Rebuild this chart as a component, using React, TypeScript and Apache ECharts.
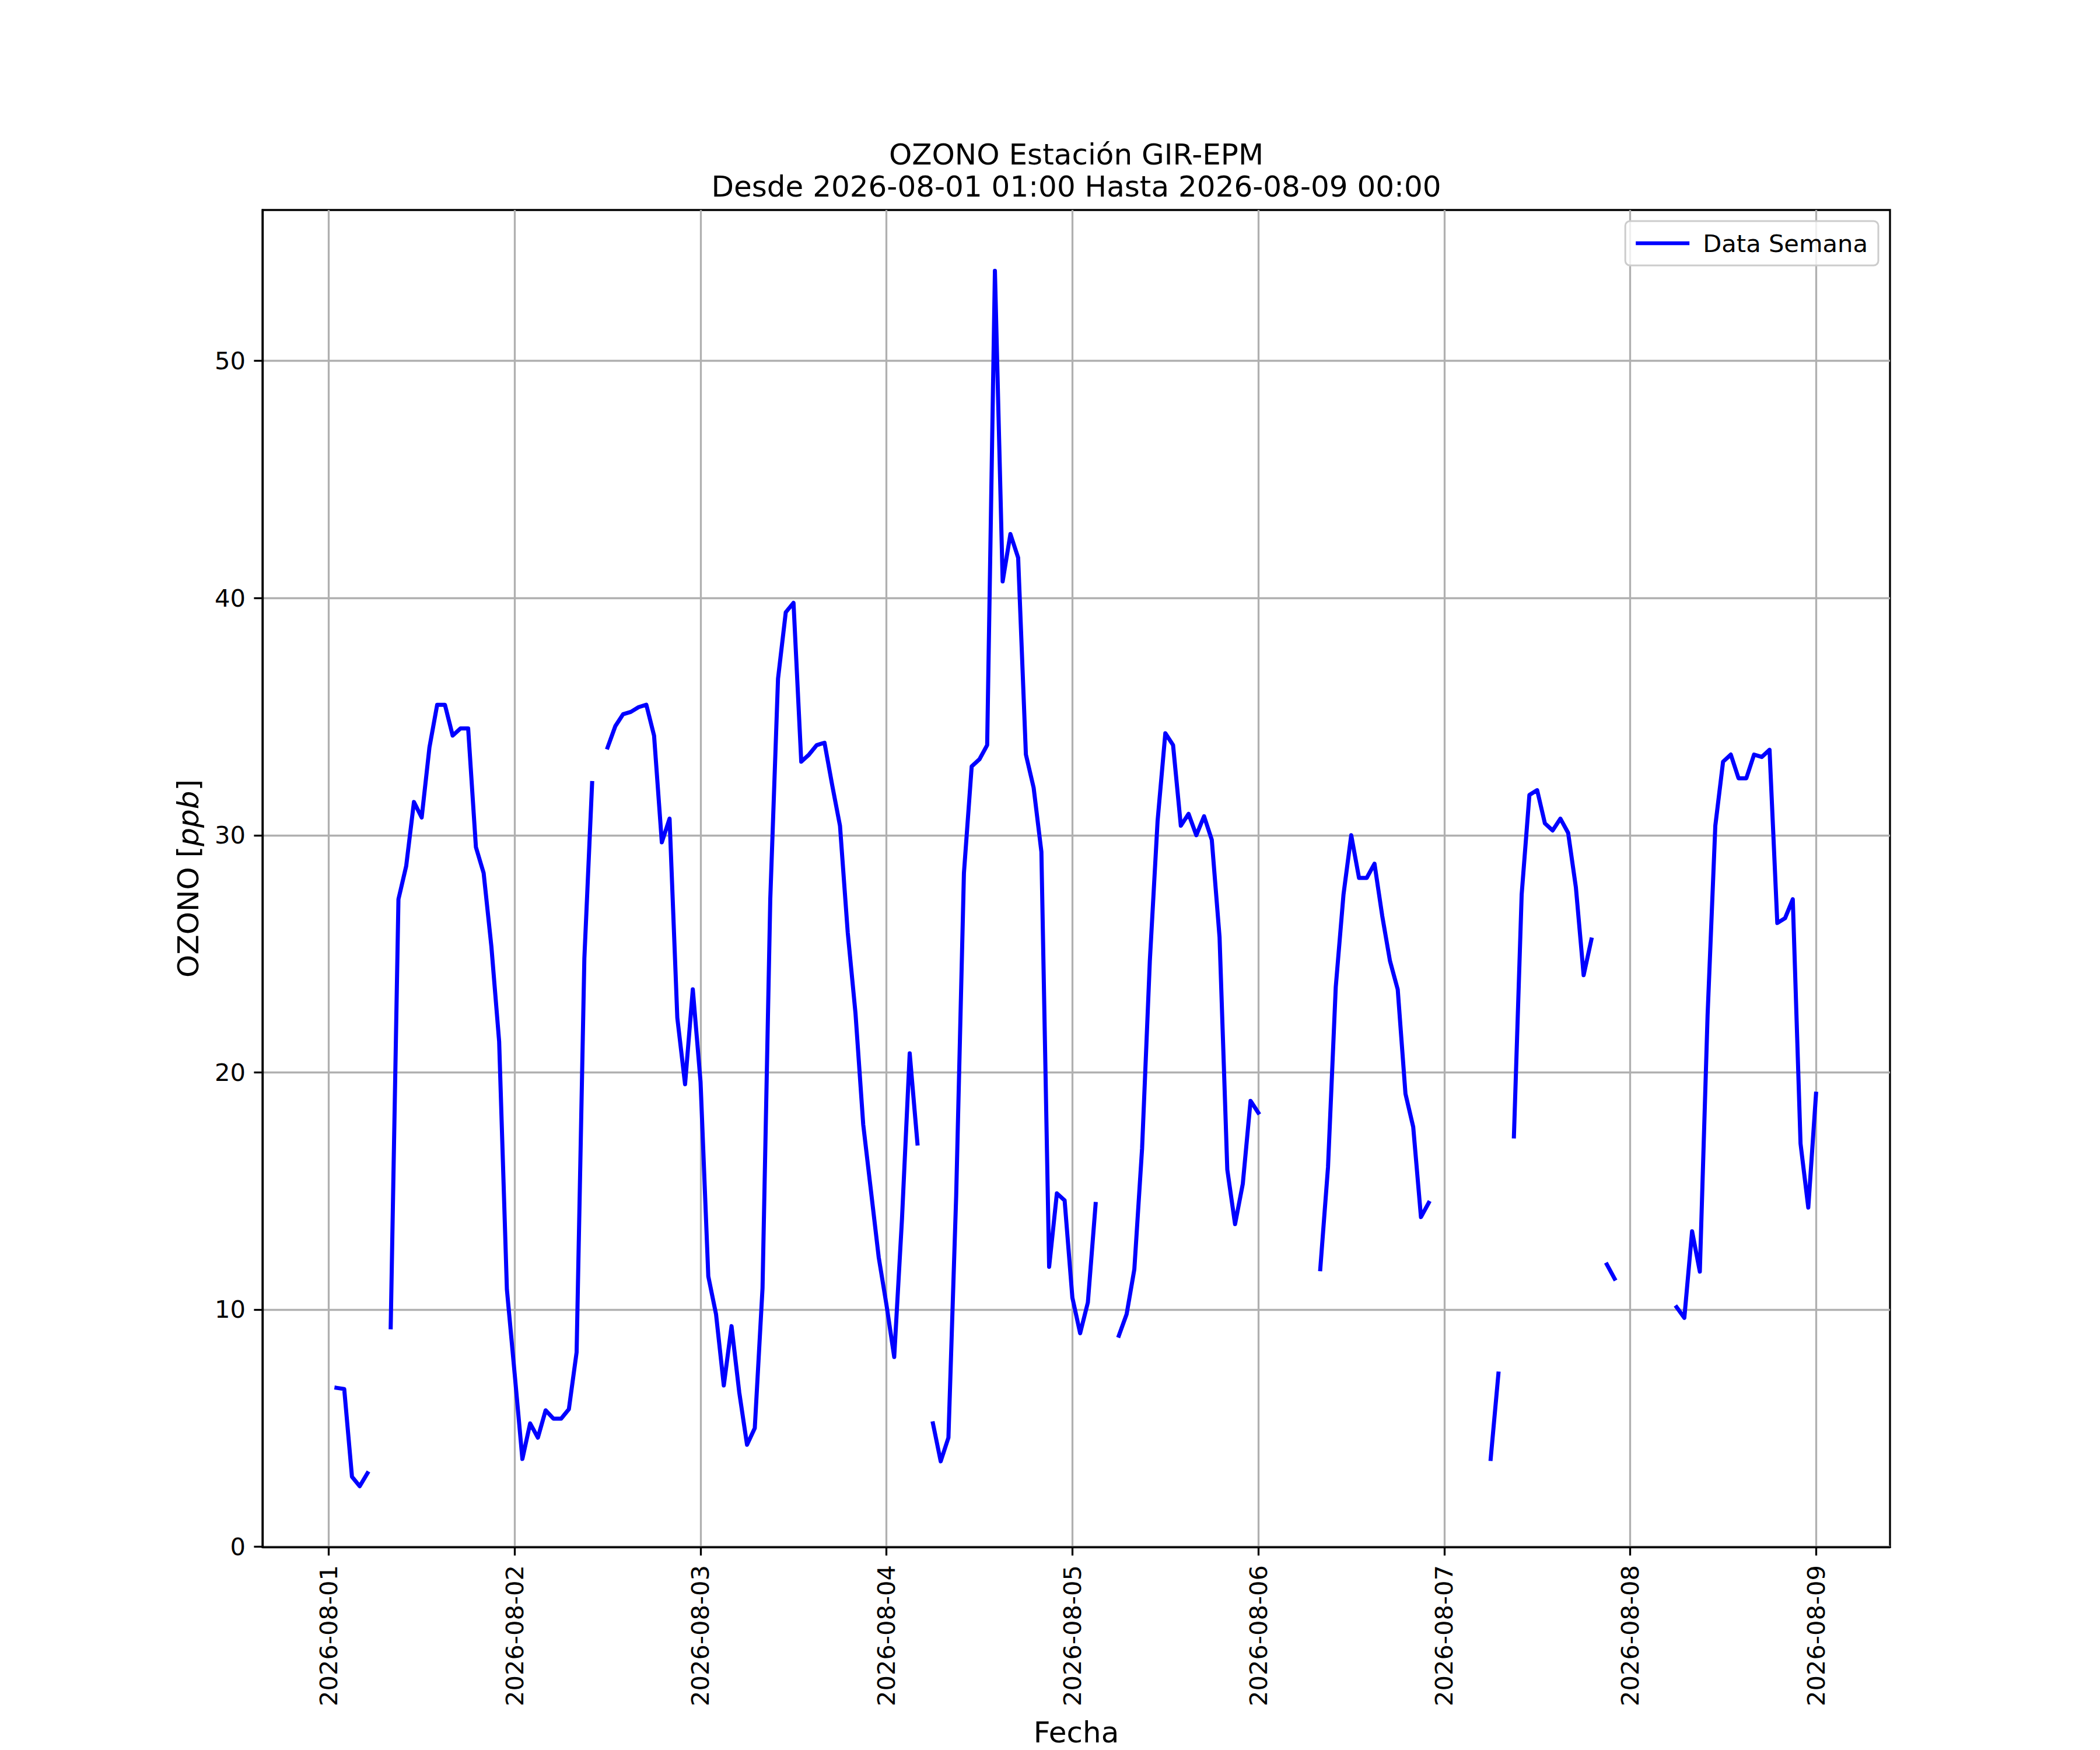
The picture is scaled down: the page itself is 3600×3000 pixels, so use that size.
import React, { useEffect, useRef } from "react";
import * as echarts from "echarts";

// Hourly series starting 2026-08-01 01:00 (hour 1 counted from 2026-08-01 00:00)
const START_HOUR = 1;

const day1 = [6.7, 6.65, 2.95, 2.55, 3.1, null, null, 9.25, 27.3, 28.7, 31.4, 30.75, 33.7, 35.5, 35.5, 34.2, 34.5, 34.5, 29.5, 28.4, 25.3, 21.3, 10.85, 7.3];
const day2 = [3.7, 5.2, 4.6, 5.75, 5.4, 5.4, 5.8, 8.2, 24.8, 32.2, null, 33.7, 34.6, 35.1, 35.2, 35.4, 35.5, 34.2, 29.7, 30.7, 22.3, 19.5, 23.5, 19.6];
const day3 = [11.4, 9.8, 6.8, 9.3, 6.5, 4.3, 5.0, 10.9, 27.3, 36.6, 39.4, 39.8, 33.1, 33.4, 33.8, 33.9, 32.1, 30.4, 25.9, 22.5, 17.8, 15.0, 12.2, 10.2];
const day4 = [8.0, 13.8, 20.8, 17.0, null, 5.2, 3.6, 4.6, 14.8, 28.4, 32.9, 33.2, 33.8, 53.8, 40.7, 42.7, 41.7, 33.4, 32.0, 29.3, 11.8, 14.9, 14.6, 10.5];
const day5 = [9.0, 10.3, 14.45, null, null, 8.9, 9.8, 11.7, 16.8, 24.7, 30.6, 34.3, 33.8, 30.4, 30.9, 30.0, 30.8, 29.8, 25.7, 15.9, 13.6, 15.3, 18.8, 18.3];
const day6 = [null, null, null, null, null, null, null, 11.7, 16.0, 23.6, 27.5, 30.0, 28.2, 28.2, 28.8, 26.6, 24.7, 23.5, 19.1, 17.7, 13.9, 14.5, null, null];
const day7 = [null, null, null, null, null, 3.7, 7.3, null, 17.3, 27.5, 31.7, 31.9, 30.5, 30.2, 30.7, 30.1, 27.8, 24.1, 25.6, null, 11.9, 11.3, null, null];
const day8 = [null, null, null, null, null, 10.1, 9.65, 13.3, 11.6, 22.4, 30.4, 33.1, 33.4, 32.4, 32.4, 33.4, 33.3, 33.6, 26.3, 26.5, 27.3, 17.0, 14.3, 19.1];

const ozono: (number | null)[] = [...day1, ...day2, ...day3, ...day4, ...day5, ...day6, ...day7, ...day8];

const dayLabels = ["2026-08-01", "2026-08-02", "2026-08-03", "2026-08-04", "2026-08-05", "2026-08-06", "2026-08-07", "2026-08-08", "2026-08-09"];
const dayTickHours = [0, 24, 48, 72, 96, 120, 144, 168, 192];
const yTicks = [0, 10, 20, 30, 40, 50];

const titleLine1 = "OZONO Estación GIR-EPM";
const titleLine2 = "Desde 2026-08-01 01:00 Hasta 2026-08-09 00:00";
const seriesName = "Data Semana";
const xName = "Fecha";

const FONT = "DejaVu Sans";

export default function App() {
  const ref = useRef<HTMLDivElement>(null);

  useEffect(() => {
    document.body.style.margin = "0";
    const chart = echarts.init(ref.current as HTMLDivElement, null, { renderer: "svg", width: 3600, height: 3000 });

    const data = ozono.map((v, i) => [START_HOUR + i, v == null ? "-" : v]);
    const x0 = START_HOUR;
    const x1 = START_HOUR + ozono.length - 1;
    const xPad = 0.05 * (x1 - x0);
    const vals = ozono.filter((v) => v != null) as number[];
    const yLo = Math.min(...vals);
    const yHi = Math.max(...vals);
    const yPad = 0.05 * (yHi - yLo);

    const plotLeft = 450;
    const plotRight = 3240;
    const cx = (plotLeft + plotRight) / 2;

    chart.setOption({
      animation: false,
      backgroundColor: "#ffffff",
      textStyle: { fontFamily: FONT },
      graphic: [
        {
          type: "text",
          x: cx,
          y: 265,
          style: { text: titleLine1, fontSize: 50, fontFamily: FONT, fill: "#000", textAlign: "center", textVerticalAlign: "middle" },
        },
        {
          type: "text",
          x: cx,
          y: 320,
          style: { text: titleLine2, fontSize: 50, fontFamily: FONT, fill: "#000", textAlign: "center", textVerticalAlign: "middle" },
        },
      ],
      grid: {
        left: plotLeft,
        right: 3600 - plotRight,
        top: 360,
        bottom: 331,
        show: true,
        borderColor: "#000",
        borderWidth: 3.3,
        backgroundColor: "transparent",
      },
      legend: {
        right: 380,
        top: 379,
        icon: "rect",
        itemWidth: 92,
        itemHeight: 6.5,
        padding: [17, 18, 17, 18],
        borderColor: "#cccccc",
        borderWidth: 3,
        borderRadius: 8,
        backgroundColor: "rgba(255,255,255,0.8)",
        selectedMode: false,
        textStyle: { fontSize: 41.67, color: "#000", fontFamily: FONT, padding: [0, 0, 0, 18] },
        data: [seriesName],
      },
      xAxis: {
        type: "value",
        min: x0 - xPad,
        max: x1 + xPad,
        name: xName,
        nameLocation: "middle",
        nameGap: 293,
        nameTextStyle: { fontSize: 50, color: "#000", fontFamily: FONT },
        axisLine: { show: true, onZero: false, lineStyle: { color: "#000", width: 3.3 } },
        axisTick: { show: true, customValues: dayTickHours, length: 14.6, lineStyle: { color: "#000", width: 3.3 } },
        axisLabel: {
          customValues: dayTickHours,
          rotate: 90,
          margin: 31,
          fontSize: 41.67,
          color: "#000",
          fontFamily: FONT,
          formatter: (v: number) => dayLabels[dayTickHours.indexOf(v)] ?? "",
        },
        splitLine: { show: true, lineStyle: { color: "#b0b0b0", width: 3.3 } },
      },
      yAxis: {
        type: "value",
        min: yLo - yPad,
        max: yHi + yPad,
        name: "OZONO [{i|ppb}]",
        nameLocation: "middle",
        nameRotate: 90,
        nameGap: 102,
        nameTextStyle: {
          fontSize: 50,
          color: "#000",
          fontFamily: FONT,
          rich: { i: { fontSize: 50, fontStyle: "italic", fontFamily: FONT, color: "#000" } },
        },
        axisLine: { show: true, onZero: false, lineStyle: { color: "#000", width: 3.3 } },
        axisTick: { show: true, customValues: yTicks, length: 14.6, lineStyle: { color: "#000", width: 3.3 } },
        axisLabel: { customValues: yTicks, margin: 29, fontSize: 41.67, color: "#000", fontFamily: FONT, formatter: (v: number) => String(v) },
        splitLine: { show: true, lineStyle: { color: "#b0b0b0", width: 3.3 } },
      },
      series: [
        {
          type: "line",
          name: seriesName,
          data,
          showSymbol: false,
          symbol: "none",
          connectNulls: false,
          lineStyle: { color: "#0000ff", width: 7, cap: "square", join: "round" },
          itemStyle: { color: "#0000ff" },
        },
      ],
    });

    return () => chart.dispose();
  }, []);

  return <div ref={ref} style={{ position: "absolute", left: 0, top: 0, width: 3600, height: 3000, background: "#fff" }} />;
}
